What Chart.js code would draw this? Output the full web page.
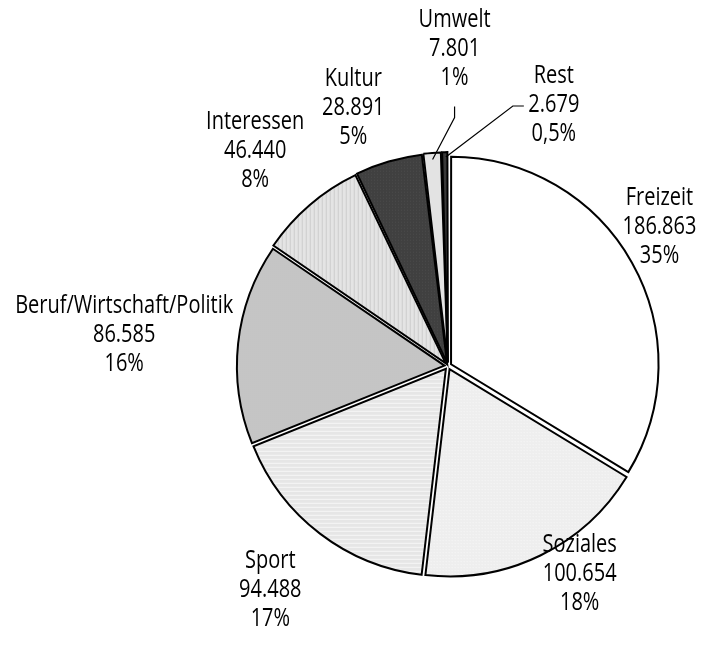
<!DOCTYPE html>
<html>
<head>
<meta charset="utf-8">
<script src="https://cdn.jsdelivr.net/npm/chart.js@4"></script>
<style>
  html, body { margin: 0; padding: 0; background: #fff; }
  #wrap { width: 716px; height: 657px; }
</style>
</head>
<body>
<div id="wrap"><canvas id="pieChart" width="716" height="657"></canvas></div>
<script>
const categories = ['Freizeit', 'Soziales', 'Sport', 'Beruf/Wirtschaft/Politik', 'Interessen', 'Kultur', 'Umwelt', 'Rest'];
const values = [186863, 100654, 94488, 86585, 46440, 28891, 7801, 2679];
const percentLabels = ['35%', '18%', '17%', '16%', '8%', '5%', '1%', '0,5%'];

const FONT = "'Open Sans', 'DejaVu Sans', sans-serif";
const SQUEEZE = 0.8; // condensed look of the original typeface

// label block offsets (px) from the outer edge of each slice, at its mid angle
const labelShift = [[31, -38], [41, 22], [-52, 59], [-118, -9], [-58, -58], [-37, -59], [22, -111], [109, -54]];
// leader lines for the two thin slices, relative to the slice's outer point
const leaders = { 6: [[0, 0], [22, -42], [22, -53]], 7: [[1, -2], [68, -53], [79, -53]] };

const fmt = v => String(v).replace(/\B(?=(\d{3})+(?!\d))/g, '.');

// small tile patterns, like the shaded fills of the original
function tile(w, h, base, paint) {
    const c = document.createElement('canvas');
    c.width = w; c.height = h;
    const g = c.getContext('2d');
    g.fillStyle = base;
    g.fillRect(0, 0, w, h);
    if (paint) paint(g);
    return g.createPattern(c, 'repeat');
}
const ctx = document.getElementById('pieChart').getContext('2d');
const fills = [
    '#ffffff',
    tile(3, 3, '#eeeeee', g => { g.fillStyle = '#f9f9f9'; g.fillRect(0, 0, 1, 1); }),
    tile(4, 4, '#e6e6e6', g => { g.fillStyle = '#f7f7f7'; g.fillRect(0, 0, 4, 1); }),
    tile(2, 2, '#c4c4c4', g => { g.fillStyle = '#c9c9c9'; g.fillRect(0, 0, 1, 1); }),
    tile(4, 4, '#e4e4e4', g => { g.fillStyle = '#cccccc'; g.fillRect(0, 0, 1, 4); }),
    tile(3, 3, '#404040', g => { g.fillStyle = '#4d4d4d'; g.fillRect(0, 0, 1, 1); }),
    '#e3e3e3',
    '#3a3a3a'
];

const outsideLabels = {
    id: 'outsideLabels',
    afterDraw(chart) {
        const c = chart.ctx;
        const arcs = chart.getDatasetMeta(0).data;
        c.save();
        c.font = '25px ' + FONT;
        c.fillStyle = '#000';
        c.textAlign = 'center';
        c.textBaseline = 'middle';
        c.strokeStyle = '#000';
        c.lineWidth = 1.2;
        arcs.forEach((arc, i) => {
            const p = arc.getProps(['x', 'y', 'startAngle', 'endAngle', 'outerRadius'], true);
            const mid = (p.startAngle + p.endAngle) / 2;
            const ox = p.x + Math.cos(mid) * p.outerRadius;
            const oy = p.y + Math.sin(mid) * p.outerRadius;
            const lx = ox + labelShift[i][0];
            const ly = oy + labelShift[i][1];
            const lines = [categories[i], fmt(values[i]), percentLabels[i]];
            lines.forEach((t, k) => {
                c.save();
                c.translate(lx, ly + (k - 1) * 29);
                c.scale(SQUEEZE, 1);
                c.fillText(t, 0, 0);
                c.restore();
            });
            if (leaders[i]) {
                c.beginPath();
                leaders[i].forEach(([dx, dy], k) => {
                    if (k === 0) c.moveTo(ox + dx, oy + dy);
                    else c.lineTo(ox + dx, oy + dy);
                });
                c.stroke();
            }
        });
        c.restore();
    }
};

new Chart(ctx, {
    type: 'pie',
    data: {
        labels: categories,
        datasets: [{
            data: values,
            backgroundColor: fills,
            borderColor: '#000',
            borderWidth: 2,
            borderJoinStyle: 'miter',
            offset: 14
        }]
    },
    options: {
        responsive: false,
        animation: false,
        radius: 207,
        layout: { padding: { left: 200, right: 20, top: 100, bottom: 25 } },
        plugins: {
            legend: { display: false },
            tooltip: { enabled: false }
        }
    },
    plugins: [outsideLabels]
});
</script>
</body>
</html>
